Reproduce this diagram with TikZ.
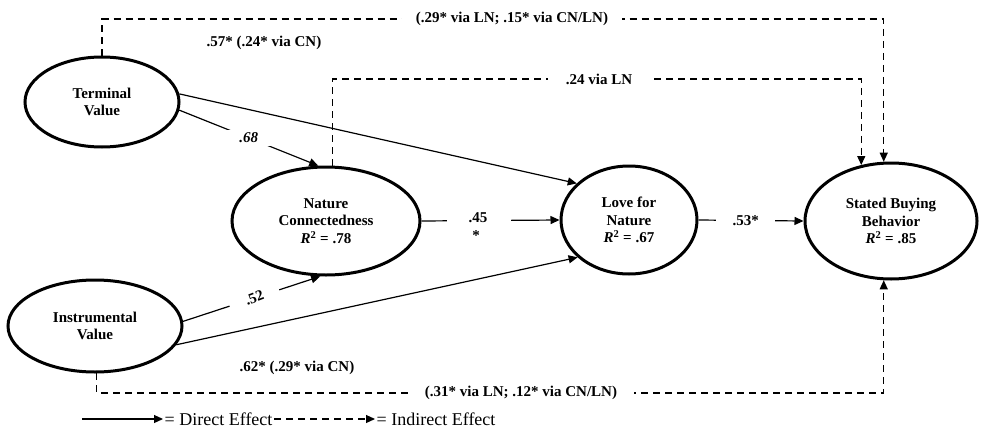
\documentclass[tikz,border=0pt]{standalone}
\usepackage{fontspec}
\setmainfont{Liberation Serif}
\usetikzlibrary{arrows.meta,shapes.geometric}
\begin{document}
\begin{tikzpicture}[x=1pt,y=-1pt,
  lat/.style={ellipse, draw, line width=3pt, inner sep=0pt, align=center,
    font=\fontsize{15}{17.5}\selectfont\bfseries},
  dir/.style={line width=1.2pt, -{Triangle[length=9pt,width=8pt]}},
  ind/.style={dir, dash pattern=on 7pt off 5pt},
  lbl/.style={font=\fontsize{15}{17}\selectfont\bfseries, inner sep=0pt},
  gap/.style={fill=white, inner ysep=3pt},
  legend/.style={font=\fontsize{18}{20}\selectfont, inner sep=1.5pt}]
\useasboundingbox (0,0) rectangle (982,439);

\coordinate (toprail) at (0,19);
\coordinate (midrail) at (0,79);
\coordinate (botrail) at (0,393);

\node[lat, minimum width=154pt, minimum height=90pt] (tv) at (102,102) {Terminal\\Value};
\node[lat, minimum width=174pt, minimum height=92pt] (iv) at (95,326) {Instrumental\\Value};
\node[lat, minimum width=188pt, minimum height=108pt] (nc) at (326,221) {Nature\\Connectedness\\{\itshape R}\textsuperscript{2} = .78};
\node[lat, minimum width=136pt, minimum height=108pt] (lfn) at (629,220) {Love for\\Nature\\{\itshape R}\textsuperscript{2} = .67};
\node[lat, minimum width=172pt, minimum height=116pt] (sbb) at (891,221) {Stated Buying\\Behavior\\{\itshape R}\textsuperscript{2} = .85};

% direct effects
\draw[dir] (tv.6) -- (lfn.145);
\draw[dir] (tv.-6) -- (nc.98)
  node[lbl, gap, inner xsep=15pt, pos=0.5] (l68) {\itshape .68};
\draw[dir] (iv.3) -- (nc.-96)
  node[gap, pos=0.52, rotate=21, minimum width=52pt, minimum height=6pt, inner sep=0pt] (g52) {};
\node[lbl, rotate=21] (l52) at (g52) {.52};
\draw[dir] (iv.-13) -- (lfn.-144);
\draw[dir] (nc.east) -- (lfn.west)
  node[gap, pos=0.42, minimum width=64pt, minimum height=4pt, inner sep=0pt] (g45) {};
\node[lbl] (l45) at (478,218) {.45};
\node[lbl] (l45s) at (476,236) {*};
\draw[dir] (lfn.east) -- (sbb.west)
  node[lbl, gap, pos=0.45, minimum width=59pt] (l53) {.53*};

% indirect effects
\draw[ind] (tv.north) -- (tv.north |- toprail) -| (sbb.97);
\draw[ind] (nc.83) -- (nc.83 |- midrail) -| (sbb.118);
\draw[ind] (iv.-88) -- (iv.-88 |- botrail) -| (sbb.-97);

\node[lbl, gap, inner xsep=14pt] (ltop) at (512,19) {(.29* via LN; .15* via CN/LN)};
\node[lbl, gap, inner xsep=18pt] (lmid) at (599,79) {.24 via LN};
\node[lbl, gap, inner xsep=17pt] (lbot) at (521,393) {(.31* via LN; .12* via CN/LN)};
\node[lbl] (l57) at (264,43) {.57* (.24* via CN)};
\node[lbl] (l62) at (297,368) {.62* (.29* via CN)};

% legend
\coordinate (lga) at (82,419);
\coordinate (lgb) at (163,419);
\coordinate (lgc) at (375,419);
\draw[dir] (lga) -- (lgb);
\node[legend, anchor=west] (ldt) at (lgb) {= Direct Effect};
\draw[ind] (ldt.east) -- (lgc);
\node[legend, anchor=west] (lit) at (lgc) {= Indirect Effect};
\end{tikzpicture}
\end{document}
